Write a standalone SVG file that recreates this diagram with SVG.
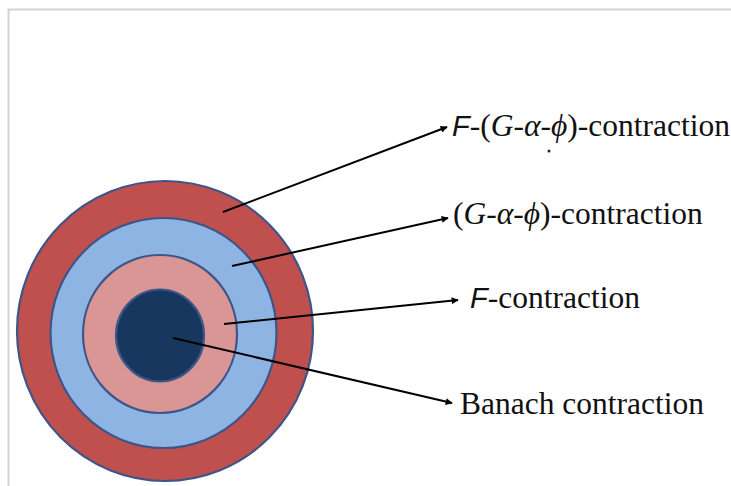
<svg xmlns="http://www.w3.org/2000/svg" width="731" height="486" viewBox="0 0 731 486">
<defs>
<marker id="ah" viewBox="0 0 10 10" refX="9" refY="5" markerWidth="10" markerHeight="7" markerUnits="userSpaceOnUse" orient="auto">
<path d="M0,0 L10,5 L0,10 z" fill="#000"/>
</marker>
</defs>
<style>
.ring{stroke:#3D5587;stroke-width:2.2}
.lbl{font-family:"Liberation Serif","Times New Roman",serif;font-size:31.5px;fill:#111}
.it{font-style:italic}
.sf{font-family:"Liberation Sans",Arial,sans-serif;font-style:italic;font-size:29px}
.con{stroke:#000;stroke-width:2;fill:none;marker-end:url(#ah)}
</style>
<rect width="731" height="486" fill="#fff"/>
<path d="M8.5,486 V9.5 H731" fill="none" stroke="#d4d4d4" stroke-width="2"/>
<g id="outer"><ellipse class="ring" cx="165" cy="331" rx="148" ry="150" fill="#C0504D"/></g>
<g id="second"><ellipse class="ring" cx="163.5" cy="333" rx="113" ry="115" fill="#8EB4E3"/></g>
<g id="third"><ellipse class="ring" cx="160" cy="334" rx="77" ry="79" fill="#D99694"/></g>
<g id="core"><ellipse class="ring" cx="160" cy="335.5" rx="44" ry="46" fill="#17375E"/></g>
<g id="connectors">
<line class="con" x1="223" y1="212" x2="447" y2="127"/>
<line class="con" x1="232" y1="266" x2="448" y2="218"/>
<line class="con" x1="224" y1="324" x2="458" y2="300"/>
<line class="con" x1="173" y1="338" x2="452" y2="403"/>
</g>
<g id="l1"><text class="lbl" x="452" y="136"><tspan class="sf">F</tspan>-(<tspan class="it">G</tspan>-<tspan class="it">α</tspan>-<tspan class="it">ϕ</tspan>)-contraction</text>
<circle cx="549" cy="151" r="1.5" fill="#222"/></g>
<g id="l2"><text class="lbl" x="453" y="224">(<tspan class="it">G</tspan>-<tspan class="it">α</tspan>-<tspan class="it">ϕ</tspan>)-contraction</text></g>
<g id="l3"><text class="lbl" x="470" y="308"><tspan class="sf">F</tspan>-contraction</text></g>
<g id="l4"><text class="lbl" x="460" y="414">Banach contraction</text></g>
</svg>
